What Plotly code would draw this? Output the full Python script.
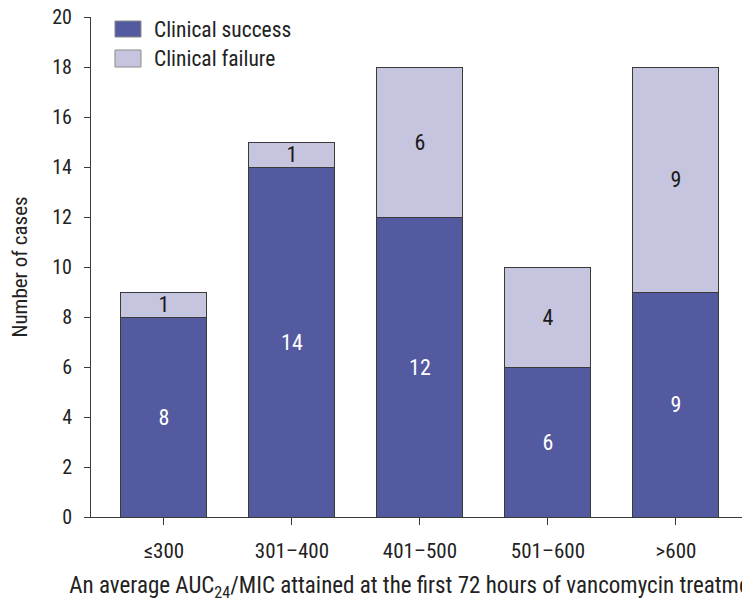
import plotly.graph_objects as go

categories = ["≤300", "301–400", "401–500", "501–600", ">600"]
success = [8, 14, 12, 6, 9]
failure = [1, 1, 6, 4, 9]
series_names = ["Clinical success", "Clinical failure"]

FONT = "Roboto Condensed, Roboto, sans-serif"
C_SUCCESS = "#535aa0"
C_FAILURE = "#c6c5df"
LINE = "#3a3a3a"

fig = go.Figure()
fig.add_trace(go.Bar(
    x=categories, y=success, name=series_names[0],
    marker=dict(color=C_SUCCESS, line=dict(color=LINE, width=1)),
    text=[str(v) for v in success], textposition="inside",
    insidetextanchor="middle", constraintext="none", textangle=0,
    insidetextfont=dict(color="white", size=22, family=FONT),
    width=0.672, showlegend=False,
))
fig.add_trace(go.Bar(
    x=categories, y=failure, name=series_names[1],
    marker=dict(color=C_FAILURE, line=dict(color=LINE, width=1)),
    text=[str(v) for v in failure], textposition="inside",
    insidetextanchor="middle", constraintext="none", textangle=0,
    insidetextfont=dict(color="#1a1a1a", size=22, family=FONT),
    width=0.672, showlegend=False,
))

# legend drawn manually
legend_y = [(0.992, 0.960), (0.934, 0.900)]
colors = [C_SUCCESS, C_FAILURE]
for (y1, y0), c, name in zip(legend_y, colors, series_names):
    fig.add_shape(type="rect", xref="paper", yref="paper",
                  x0=0.0366, x1=0.0763, y0=y0, y1=y1,
                  fillcolor=c, line=dict(color="#8a8a8a", width=1))
    fig.add_annotation(xref="paper", yref="paper", x=0.0931, y=(y0 + y1) / 2,
                       text=name, showarrow=False, xanchor="left", yanchor="middle",
                       font=dict(family=FONT, size=21.5, color="#222"))

fig.update_layout(
    barmode="stack",
    width=742, height=597,
    margin=dict(l=83, r=4, t=9, b=88),
    plot_bgcolor="white", paper_bgcolor="white",
    font=dict(family=FONT, size=20, color="#222"),
    xaxis=dict(
        range=[-0.570, 4.547], showline=True, linecolor=LINE, linewidth=1,
        ticks="outside", ticklen=7, tickcolor=LINE, ticklabelstandoff=8,
        tickfont=dict(size=21), automargin=False,
        title=dict(text="An average AUC<sub>24</sub>/MIC attained at the first 72 hours of vancomycin treatment",
                   font=dict(size=23), standoff=14),
    ),
    yaxis=dict(
        range=[0, 20], dtick=2, showline=True, linecolor=LINE, linewidth=1,
        ticks="outside", ticklen=6, tickcolor=LINE, showgrid=False, zeroline=False,
        tickfont=dict(size=20), ticklabelstandoff=8, automargin=False,
        ticklabeloverflow="allow",
        title=dict(text="Number of cases", font=dict(size=21), standoff=18),
    ),
)

fig.write_html("out.html")
